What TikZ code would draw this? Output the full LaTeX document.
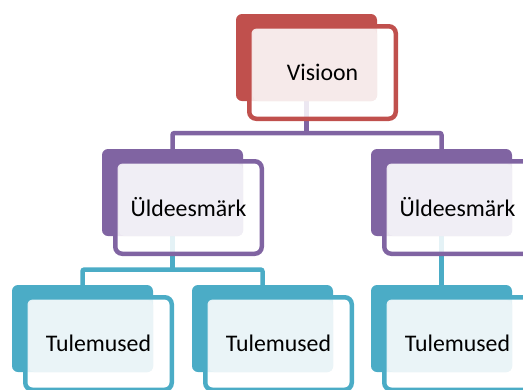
\documentclass[tikz,border=0pt]{standalone}
\usepackage{fontspec}
\setmainfont{Carlito}
\pgfdeclarelayer{bg}
\pgfsetlayers{bg,main}
\definecolor{cred}{HTML}{C0504D}
\definecolor{lred}{HTML}{F6EAEA}
\definecolor{cpur}{HTML}{8064A2}
\definecolor{lpur}{HTML}{F0EEF5}
\definecolor{cteal}{HTML}{4BACC6}
\definecolor{lteal}{HTML}{EAF4F7}
\tikzset{
  backbox/.style={inner sep=0, outer sep=0, minimum width=141pt, minimum height=87pt, rounded corners=6pt},
  frontbox/.style={inner sep=0, outer sep=0, minimum width=146.5pt, minimum height=92.5pt, rounded corners=7pt, line width=4.5pt, fill=white, fill opacity=0.85},
  lightbox/.style={inner sep=0, outer sep=0, minimum width=124pt, minimum height=72pt, rounded corners=5pt},
  labeltext/.style={inner sep=0, text=black, font=\fontsize{#1}{#1}\selectfont},
  conn/.style={line width=4.5pt, rounded corners=2pt}
}
\newcommand{\smartbox}[7]{%
  \node[backbox, fill=#4] (#1bk) at (#2+70.5,#3+43.5) {};
  \node[frontbox, draw=#4] (#1fr) at (#2+86.5,#3+58.5) {};
  \node[lightbox, fill=#5] (#1lt) at (#2+79,#3+51) {};
  \node[labeltext=#7] (#1) at (#2+86.5,#3+58.5) {#6};
}
\begin{document}
\begin{tikzpicture}[x=1pt,y=-1pt]
\useasboundingbox (0,0) rectangle (523,389);
\clip (0,0) rectangle (523,389);
\coordinate (hp) at (0,133);
\coordinate (ht) at (0,269.5);
\smartbox{vis}{236}{14}{cred}{lred}{Visioon}{23.8}
\smartbox{ul}{102}{149}{cpur}{lpur}{Üldeesmärk}{23.8}
\smartbox{ur}{371}{149}{cpur}{lpur}{Üldeesmärk}{23.8}
\smartbox{ta}{12}{285}{cteal}{lteal}{Tulemused}{23.8}
\smartbox{tb}{192}{285}{cteal}{lteal}{Tulemused}{23.8}
\smartbox{tc}{371}{285}{cteal}{lteal}{Tulemused}{23.8}
\begin{pgfonlayer}{bg}
  \draw[conn, cpur] ([yshift=6pt]visbk.south) -- (visbk.south |- hp);
  \draw[conn, cpur] (ulbk.north) -- (ulbk.north |- hp) -| (urbk.north);
  \draw[conn, cteal] ([yshift=6pt]ulbk.south) -- (ulbk.south |- ht);
  \draw[conn, cteal] (tabk.north) -- (tabk.north |- ht) -| (tbbk.north);
  \draw[conn, cteal] ([yshift=6pt]urbk.south) -- (tcbk.north);
\end{pgfonlayer}
\end{tikzpicture}
\end{document}
